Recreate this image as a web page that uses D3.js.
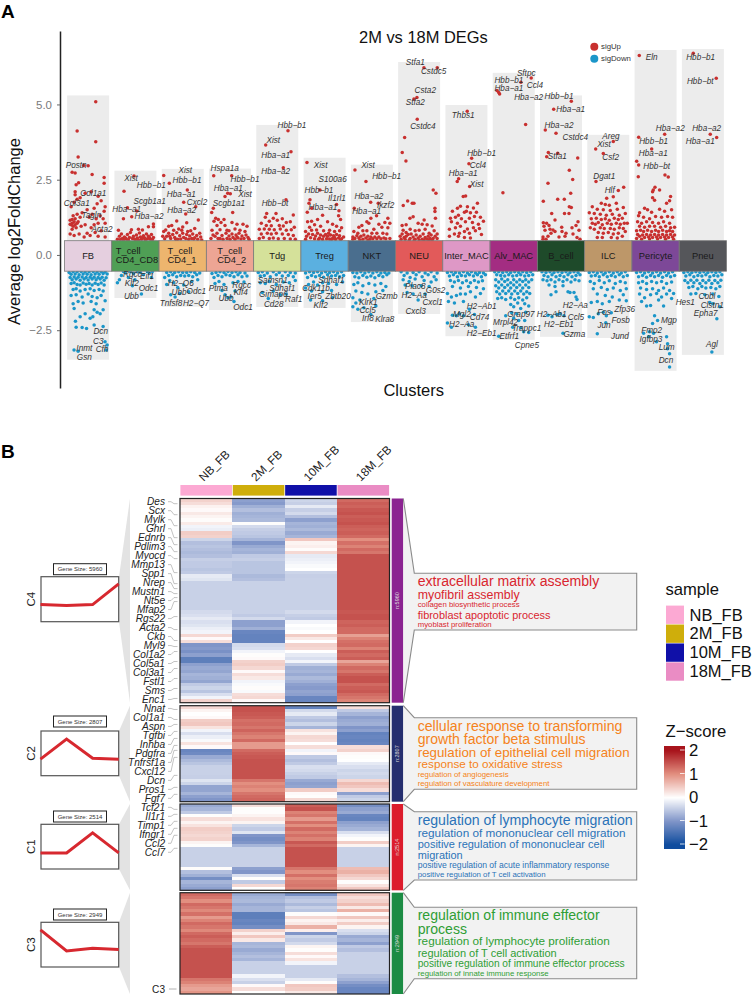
<!DOCTYPE html>
<html><head><meta charset="utf-8">
<script src="https://cdn.jsdelivr.net/npm/d3@7/dist/d3.min.js"></script>
<style>html,body{margin:0;background:#fff}svg{display:block;font-family:"Liberation Sans",Arial,sans-serif}</style>
</head><body><svg id="chart" width="754" height="996"></svg>
<script>
// ---------- Panel A data ----------
const clusters=["FB","T_cell_CD4_CD8","T_cell_CD4_1","T_cell_CD4_2","Tdg","Treg","NKT","NEU","Inter_MAC","Alv_MAC","B_cell","ILC","Pericyte","Pneu"];
const clusterLines=[["FB"],["T_cell","CD4_CD8"],["T_cell","CD4_1"],["T_cell","CD4_2"],["Tdg"],["Treg"],["NKT"],["NEU"],["Inter_MAC"],["Alv_MAC"],["B_cell"],["ILC"],["Pericyte"],["Pneu"]];
const clusterColors=["#e5cfdf","#4f9f55","#edb56e","#eda594","#d5e19a","#5bb0e0","#4a6e8e","#e25a5a","#de98c6","#a32d82","#1e4a2a","#bd9769","#7d4898","#55565a"];
const clusterMax=[5.30,2.80,2.86,2.87,4.32,3.23,3.00,6.41,4.98,6.05,5.30,3.99,6.81,6.84];
const clusterMin=[-3.48,-1.43,-1.72,-1.83,-1.73,-1.76,-2.23,-1.96,-2.70,-2.82,-2.72,-2.76,-3.85,-3.32];
const yTicks=[-2.5,0,2.5,5];
// points: flat lists of jitter, log2FC pairs
const upFB=[7.6,5.09,-11,4.12,7.6,3.76,-10,3.25,0,2.96,-4.5,2.97,-16,2.75,-13,2.72,4,2.67,16,2.57,16,2.38,-9.5,2.4,-12,2.33,-13,2.1,-13,2,-11,1.85,-17,1.6,-14,1.75,-8,1.9,-3,2.05,3,2.1,10,1.95,13,1.8,17,1.6,16,1.45,9,1.7,6,1.55,-1,1.5,-6,1.4,-11,1.35,-15,1.3,-18,1.15,-16,1.05,-13,1.2,-10,1.1,-8,1.25,1,1.25,4,1.35,8,1.2,12,1.3,15,1.2,17,1.05,10,1.05,6,1,3,.9,-3,1,-7,.95,-12,.9,-16,.85,-18,.7,-14,.65,-9,.7,-4,.6,2,.65,7,.75,13,.8,17,.6,-17,1,-15,.95,-13,1,-11,1.05,-18,1.02,-16,1.18,-14,1.1,-1,.72,10,.62];
const upT8=[-1.4,2.62,-11.4,2.12,-8,1.57,1.3,1.46,-3.7,1.27,-12,1.2,18,1.03,13,.94,18,.94,-16,.62,-14,.7,-13,.55,-11,.6,-9,.52,-8,.68,-6,.58,-5,.75,-3,.55,-2,.62,0,.5,1,.66,2,.56,4,.73,5,.6,6,.52,8,.64,9,.57,11,.7,12,.54,13,.62,15,.52,16,.68,18,.58,-18,.52,-12,.5,-7,.5,3,.5,10,.5,-4,.84,3,.85,7,.83,-17,.82,-15,.51,-10,.56,-1,.53,7,.55,14,.58,17,.51];
const upT1=[-19,2.64,-13.4,2.38,4.6,2.16,1,1.75,13,1.6,3,1.36,-6,1.13,15.6,1.16,-11,.98,-17,.83,4,1.07,-14,.95,-4,.86,-9,.82,-19,.78,0,.93,8,.8,12,.88,17,.72,-16,.62,-14,.72,-12,.55,-10,.68,-8,.58,-6,.74,-5,.52,-3,.64,-2,.53,0,.72,1,.58,3,.55,4,.68,6,.52,7,.63,9,.55,10,.7,12,.57,14,.65,15,.52,18,.6,-18,.54,-13,.62,-7,.52,-1,.82,5,.78,11,.53,19,.5,-20,.62];
const upT2=[-16.3,2.63,1.7,2.63,-5,1.94,-2.3,2.05,.3,2.03,-16.7,1.55,-18.3,1.41,2.7,1.41,-14.3,1.22,-11.7,1.18,-6,1.18,-16,1.12,-9,1.08,-13,.98,-5,.98,2,1.08,7,1.02,13,1.02,17,.95,-18,.82,-10,.84,-3,.82,5,.86,10,.82,15,.78,-15,.62,-13,.72,-12,.55,-8,.65,-7,.52,-4,.72,-3,.55,-1,.63,0,.52,2,.7,3,.58,5,.52,6,.66,8,.56,9,.72,11,.53,12,.63,14,.55,16,.66,18,.58,19,.52,-19,.55,-17,.66,-10,.55,-1,.8,7,.6];
const upTdg=[10.7,4.13,-11.6,3.65,13.7,3.43,6,2.9,8.7,1.83,-10.6,1.38,-1.3,1.38,16,1.33,-12,1.25,-4,1.22,5,1.2,-8,1.12,0,1.15,9,1.08,13,1.1,-16,1.05,-11,.98,-6,.97,2,.98,6,.96,17,.92,-18,.85,-13,.86,-8,.85,-3,.84,3,.86,9,.82,14,.84,-16,.7,-10,.72,-6,.7,-1,.72,5,.7,11,.68,16,.65,-18,.55,-14,.58,-8,.55,-4,.56,1,.54,7,.55,13,.53,18,.52];
const upTreg=[-17.6,3.07,-14.6,1.83,-15.6,1.72,-17.3,1.42,12,1.68,14.4,1.47,-4.6,2.16,-12.9,1.55,-2,1.32,-13,1.12,14,1.3,16,1.18,-7,1.18,3,1.1,-17,1.1,8,1.02,-10,1,-15,.92,-4,.95,12,.95,17,.9,-19,.78,-13,.82,-8,.83,-1,.8,5,.82,10,.78,15,.8,-18,.62,-16,.7,-14,.57,-12,.68,-10,.54,-9,.63,-7,.72,-5,.56,-4,.66,-2,.52,-1,.62,1,.68,2,.54,3,.62,5,.53,6,.66,8,.55,9,.64,11,.52,12,.68,14,.56,15,.64,17,.54,19,.6,-19,.52,-6,.52,4,.72,7,.52,10,.58,16,.51];
const upNKT=[-16.9,2.82,-5.9,2.44,-1.2,1.75,6.4,1.72,-17.6,1.55,4.7,1.3,16,1.22,18,1.05,-1,1.22,-5,1.1,-10,.98,-3,1.05,7,1.02,13,1.08,-13,.92,2,.85,10,.92,16,.9,-18,.78,-14,.72,-9,.8,-5,.8,0,.72,5,.72,11,.72,15,.7,-19,.6,-17,.55,-15,.64,-13,.56,-11,.62,-9,.52,-8,.66,-6,.56,-4,.62,-2,.52,-1,.6,1,.54,3,.6,5,.54,7,.6,9,.54,12,.56,14,.54,18,.55,-19,.52,-12,.5,-4,.5];
const upNEU=[4.8,6.22,18.1,6.22,-5.2,5.18,-2.2,5.23,-1.9,4.51,-14.5,3.9,-16.9,3.4,-13.2,3.12,14.1,2.16,16.8,2.05,-11.5,1.79,-6.9,1.72,-5.2,1.72,-15.9,1.64,15.8,1.55,15.8,1.44,-9.2,1.22,-6,1.27,16.3,1.22,5,1.16,-17,.98,-13,1,-1,1.05,3,1.02,8,1,13,.96,-16,.82,-13,.75,-9,.85,-4,.8,0,.82,6,.85,10,.72,15,.8,18,.7,-19,.62,-17,.7,-15,.58,-13,.62,-11,.68,-9,.55,-8,.7,-6,.6,-4,.52,-3,.66,-1,.56,1,.62,3,.52,4,.7,6,.58,8,.52,9,.62,11,.55,12,.66,14,.55,16,.62,18,.55,-18,.52,-14,.52,-10,.5,-5,.5,0,.5,5,.5,10,.5,13,.5];
const upInter=[.8,4.77,5.2,3.21,2.5,3.03,-9.2,2.44,-7.8,2.53,3.2,2.27,-3.2,1.94,-.8,1.96,-6,1.62,-9,1.55,1,1.6,7,1.56,11,1.72,0,1.45,-14,1.45,-8,1.32,-2,1.42,4,1.4,10,1.42,-16,1.22,-11,1.25,-5,1.2,3,1.22,8,1.28,14,1.25,17,1.12,-15,1.1,-9,1.05,-1,1.1,6,1.08,12,1.02,-17,.85,-11,.9,-6,.95,-2,.78,1,.86,7,.9,13,.88,-12,.7,-7,.72,3,.72,9,.8,15,.68,-17,.62,-8,.62,-2,.58,4,.56];
const upAlv=[7.2,5.74,17.5,5.88,-16.8,5.46,-14.1,5.35,-15,5.4,11.9,4.33,-10.8,2.07];
const upB=[10.3,5.11,-7.3,4.84,-15.7,4.15,-5,4.04,-12.7,3.4,-14.3,3.26,-3.3,3.38,16.7,3.22,8.3,2.81,-13,2.38,11.7,2.51,9.7,2.05,-17.7,1.78,-3.3,1.85,3.3,1.85,8.3,1.6,10.3,1.58,-9.3,1.38,8,1.38,3.5,1.38,17,1.1,-17.7,1.07,-14.4,1.05,-6,1.16,.7,.92,-11,.85,-8,.83,-17,.95,-12,.98,-16,.82,-10,.72,-6,.78,1,.78,5,.72,11,.9,15,.98,18,.82,-18,.6,-13,.62,-15,.52,-2,.6,4,.62,12,.7,16,.58,19,.52,-18,.52];
const upILC=[5,3.77,-12.6,3.52,-5,3.37,-12.3,2.44,10,2.14,15.4,2.25,-1.6,1.88,5,1.93,-7,1.72,-3,1.68,1,1.65,8,1.72,-16,1.6,-11,1.52,-5,1.5,2,1.48,9,1.52,15,1.58,-19,1.4,-14,1.38,-8,1.35,-2,1.32,4,1.35,11,1.32,17,1.38,-17,1.2,-12,1.22,-7,1.18,-3,1.2,1,1.15,6,1.22,10,1.18,14,1.22,-16,1.05,-13,1.02,-10,1.08,-6,1,-1,1.05,3,1.02,8,1.05,12,1.02,16,1.05,19,1.05,-18,.9,-14,.85,-8,.9,-4,.88,2,.88,6,.85,11,.9,15,.88,-10,.75,-5,.72,0,.75,5,.7,10,.72,17,.78,-11,.58,-6,.58,3,.58,9,.56,14,.62];
const upPeri=[-16.3,6.63,9.1,4.01,-16.9,3.91,-3.9,3.52,-18.9,3.11,-16.9,2.99,-17.3,2.6,9.4,2.66,12.7,2.59,-2.3,2.16,-.6,2.25,-3,2.1,4,2.16,15,1.94,-3,1.9,-1,1.82,11,1.72,14,1.8,-11,1.55,-8,1.5,-16,1.4,-4,1.42,4,1.52,9,1.45,16,1.5,-17,1.3,-12,1.25,-6,1.2,0,1.28,6,1.25,12,1.28,17,1.25,-18,1.1,-14,1.05,-9,1.1,-3,1.08,3,1.05,8,1.1,14,1.05,-16,.95,-11,.92,-6,.95,-1,.95,5,.92,10,.95,15,.9,19,.92,-19,.8,-15,.82,-12,.78,-8,.82,-4,.78,0,.82,3,.78,7,.82,11,.78,14,.8,17,.78,-18,.68,-16,.62,-13,.66,-11,.58,-9,.68,-7,.6,-5,.66,-3,.58,-1,.68,1,.6,3,.66,5,.58,7,.68,9,.6,11,.66,13,.58,15,.68,17,.6,19,.66,-19,.55,-14,.52,-6,.53,2,.53,10,.52,18,.52];
const upPneu=[-9.6,6.7,13.4,5.87,7.4,4.01,13.8,3.9];
const downFB=[-14.1,-3.16,-10,-3.2,16.9,-2.88,19,-2.99,18,-3.16,15,-2.38,-12.7,-2.2,-12,-2.4,-6,-2.41,-1.6,-2.44,2,-2.1,4.7,-2.05,6,-2.33,-8,-2.05,12,-1.95,9,-1.9,6,-1.82,-14,-1.78,-15,-1.62,-3,-1.95,15,-1.82,-19,-.58,-17,-.64,-15,-.55,-13,-.63,-11,-.56,-9,-.66,-7,-.55,-5,-.63,-3,-.57,-1,-.64,1,-.56,3,-.66,5,-.55,7,-.63,9,-.57,11,-.64,13,-.55,15,-.62,17,-.57,19,-.63,-18,-.75,-16,-.82,-14,-.73,-12,-.8,-10,-.74,-8,-.84,-6,-.73,-4,-.8,-2,-.75,0,-.83,2,-.74,4,-.8,6,-.74,8,-.82,10,-.75,12,-.8,14,-.74,16,-.84,18,-.76,-17,-.95,-14,-.92,-11,-.98,-8,-1,-5,-.93,-2,-.97,1,-.95,4,-1,7,-.94,10,-.98,13,-.93,16,-1,-15,-1.15,-12,-1.12,-8,-1.2,-3,-1.15,2,-1.12,6,-1.18,11,-1.15,15,-1.2,-17,-1.35,-12,-1.32,-6,-1.4,0,-1.3,4,-1.38,9,-1.42,13,-1.35,-10,-1.55,-5,-1.6,3,-1.55,8,-1.62,17,-1.52];
const downT8=[-18,-.92,-16,-.82,-14,-.68,-10,-.6,-7,-.75,-5,-.55,-2,-.62,2,-.55,5,-.58,8,-.66,12,-.56,14,-.6,16,-.75,17,-.55,-12,-.55,-3,-1.02,6,-1.3,-.5,-.82];
const downT1=[-18,-.75,-16,-.58,-14,-.68,-12,-.56,-10,-.66,-8,-.58,-6,-.72,-4,-.56,-2,-.68,0,-.58,2,-.7,4,-.58,6,-.68,8,-.56,10,-.72,12,-.58,14,-.66,17,-.6,-13,-.85,-16,-.98,-9,-.92,-5,-1.08,1,-1,9,-.88,15,-.82,-3,-1.28,-12,-1.32,-7.6,-1.4,6,-1.22];
const downT2=[-18,-.62,-16,-.75,-14,-.58,-12,-.68,-10,-.56,-8,-.72,-6,-.58,-4,-.66,-2,-.55,0,-.68,2,-.58,4,-.72,6,-.56,8,-.66,10,-.58,12,-.72,15,-.6,17,-.7,-15,-.95,-11,-.88,-6,-.98,3,-.92,8,-.88,14,-.9,-8,-1.18,-5,-1.32,5,-1.2,-2,-1.42,4,-1.55,1,-1.4];
const downTdg=[-19,-.58,-17,-.7,-15,-.56,-13,-.68,-10,-.6,-7,-.72,-4,-.56,-1,-.66,2,-.58,5,-.7,8,-.56,11,-.68,13,-.58,16,-.72,18,-.6,-17,-.92,-12,-.95,-8,-.88,-1,-.98,6,-.9,12,-.92,18,-.85,-15,-1.25,-4,-1.2,3,-1.32,-9,-1.45,9,-1.3];
const downTreg=[-19,-.6,-17,-.75,-15,-.56,-13,-.68,-11,-.58,-9,-.72,-7,-.56,-5,-.68,-3,-.6,-1,-.74,1,-.56,3,-.66,5,-.58,7,-.7,9,-.56,11,-.68,13,-.6,15,-.72,17,-.56,19,-.68,-16,-.98,-11,-.9,-7,-1,-2,-.92,4,-.95,12,-.98,18,-.9,-19,-1.1,-13,-1.2,-2,-1.22,7,-1.18,-14,-1.5,8,-1.42,-2,-1.52];
const downNKT=[-19,-.58,-17,-.72,-15,-.6,-13,-.76,-11,-.56,-9,-.68,-7,-.6,-5,-.74,-3,-.56,-1,-.7,1,-.6,3,-.76,5,-.56,7,-.68,9,-.6,11,-.72,13,-.58,15,-.66,17,-.6,-18,-.98,-14,-.92,-9,-1.02,-3,-.95,3,-1,9,-.95,14,-1.05,-16,-1.2,-10,-1.25,-4,-1.3,4,-1.22,11,-1.18,-19,-1.42,-16,-1.6,-12,-1.5,2,-1.45,-19,-1.72,-14,-1.8,-8,-1.75,-1,-1.98,4,-1.7];
const downNEU=[-18,-.56,-15,-.68,-12,-.6,-9,-.75,-6,-.58,-3,-.66,0,-.56,3,-.72,6,-.6,9,-.66,12,-.56,15,-.72,18,-.6,-16,-.82,-10,-.88,-4,-.8,5,-.85,12,-.9,17,-.82,-14,-1,-7,-1.02,2,-1.02,10,-1.05,-6,-1.3,-12,-1.25,-1,-1.5,6,-1.3];
const downInter=[-19,-.58,-17,-.7,-15,-.56,-13,-.66,-11,-.58,-9,-.72,-7,-.6,-5,-.68,-3,-.56,-1,-.7,1,-.6,3,-.66,5,-.56,7,-.7,9,-.6,11,-.66,13,-.58,15,-.72,17,-.6,19,-.66,-16,-.85,-12,-.9,-8,-.85,-4,-.92,0,-.86,4,-.92,8,-.85,12,-.9,16,-.86,-14,-1.05,-6,-1.1,2,-1.05,10,-1.08,17,-1.12,-19,-1.28,-15,-1.4,-10,-1.35,-6,-1.3,-1,-1.3,4,-1.22,9,-1.4,14,-1.28,-18,-1.55,-12,-1.6,-3,-1.55,-7,-1.95,-3,-2.02,3,-1.8,8,-1.98,-14,-2,-19,-2.26,-15,-2.4,2,-2.32,9,-2.4,-10,-2.02];
const downAlv=[-19,-.56,-17,-.66,-15,-.56,-13,-.68,-11,-.58,-9,-.7,-7,-.56,-5,-.66,-3,-.58,-1,-.7,1,-.56,3,-.68,5,-.58,7,-.66,9,-.56,11,-.7,13,-.58,15,-.68,17,-.56,19,-.66,-18,-.82,-15,-.9,-12,-.8,-9,-.88,-6,-.82,-3,-.92,0,-.82,3,-.9,6,-.82,9,-.88,12,-.82,15,-.9,18,-.82,-18,-1.02,-15,-1.1,-12,-1,-9,-1.08,-6,-1,-3,-1.1,0,-1,3,-1.08,6,-1,9,-1.1,12,-1,15,-1.08,-17,-1.22,-14,-1.3,-11,-1.2,-8,-1.28,-5,-1.2,-2,-1.3,1,-1.2,4,-1.28,7,-1.2,10,-1.3,13,-1.22,16,-1.28,-16,-1.45,-12,-1.42,-8,-1.48,-3,-1.42,1,-1.48,5,-1.42,9,-1.5,13,-1.42,-3,-1.65,0,-1.72,4,-1.6,7,-1.78,11,-1.62,15,-1.7,-2,-1.92,3,-1.95,12,-1.9,-8,-2.02,0,-2.1,5,-2.18,11,-2.18,7,-2.42,15,-2.58,10,-2.55,-15,-2.7,-1,-2.4];
const downB=[-19,-.56,-17,-.68,-15,-.58,-13,-.72,-11,-.56,-9,-.66,-7,-.58,-5,-.72,-3,-.56,-1,-.68,1,-.58,3,-.72,5,-.56,7,-.66,9,-.58,11,-.72,13,-.56,15,-.68,17,-.58,19,-.66,-18,-.82,-14,-.86,-10,-.82,-6,-.9,-2,-.82,2,-.88,6,-.82,10,-.9,14,-.82,18,-.86,-12,-1,-6,-1.05,2,-1.02,-5,-1.22,7,-1.22,9,-1.25,13,-1.25,15,-1.4,16,-1.48,-10,-1.32,-1,-1.95,3,-2.02,-13,-2,-4,-1.98,-9,-2.05,2,-2.6];
const downILC=[-19,-.58,-17,-.7,-15,-.56,-13,-.68,-11,-.6,-9,-.72,-7,-.56,-5,-.66,-3,-.6,-1,-.72,1,-.56,3,-.68,5,-.6,7,-.72,9,-.56,11,-.66,13,-.6,15,-.72,17,-.56,19,-.68,-18,-.88,-14,-.95,-9,-.85,-4,-.92,1,-.86,7,-.95,12,-.88,17,-.92,-15,-1.12,-7,-1.08,-1,-1.15,5,-1.1,12,-1.18,18,-1.12,-11,-1.3,-3,-1.35,4,-1.4,15,-1.32,-17,-1.58,-11,-1.55,-6,-1.62,1,-1.55,11,-1.5,18,-1.52,-19,-2.05,-15,-2.08,-10,-1.95,-5,-1.9,-2.5,-2.25,3,-1.92,-11,-2.62,-2,-2.02];
const downPeri=[-19,-.58,-17,-.72,-15,-.56,-13,-.68,-11,-.6,-9,-.74,-7,-.56,-5,-.68,-3,-.6,-1,-.72,1,-.56,3,-.68,5,-.6,7,-.74,9,-.56,11,-.68,13,-.6,15,-.72,17,-.56,19,-.68,-17,-.92,-13,-.88,-9,-.95,-4,-.88,1,-.92,6,-.88,11,-.95,16,-.9,-15,-1.1,-9,-1.15,-3,-1.12,3,-1.18,8,-1.1,14,-1.18,18,-1.28,-16,-1.3,-11,-1.42,-5,-1.32,1,-1.28,6,-1.4,11,-1.3,16,-1.45,-14,-1.55,-5,-1.68,3,-1.5,-9,-1.7,8,-1.7,-1,-2.02,2,-2.18,-3,-2.28,-12,-2.6,-6,-2.55,-2,-2.6,1,-2.88,11,-2.72,12,-2.95,12,-3.12,-7,-2.72,14,-3.28,14,-3.72];
const downPneu=[-19,-.58,-17,-.7,-15,-.56,-13,-.66,-11,-.58,-9,-.72,-7,-.56,-5,-.68,-3,-.58,-1,-.7,1,-.56,3,-.66,5,-.58,7,-.72,9,-.56,11,-.68,13,-.58,15,-.7,17,-.56,19,-.66,-18,-.85,-15,-.92,-12,-.84,-9,-.92,-6,-.84,-3,-.95,0,-.85,3,-.92,6,-.84,9,-.95,12,-.85,15,-.92,18,-.84,-14,-1.08,-10,-1.05,-5,-1.12,-1,-1.05,3,-1.1,8,-1.08,13,-1.12,17,-1.05,-7,-1.28,2,-1.32,10,-1.3,16,-1.38,-12,-1.3,10,-1.62,17,-1.72,14,-2.12,7,-1.58,9,-3.22];
const upLists=[upFB,upT8,upT1,upT2,upTdg,upTreg,upNKT,upNEU,upInter,upAlv,upB,upILC,upPeri,upPneu];
const downLists=[downFB,downT8,downT1,downT2,downTdg,downTreg,downNKT,downNEU,downInter,downAlv,downB,downILC,downPeri,downPneu];
// gene labels: cluster index, name, jitter, log2FC
const geneLabels=[[0,"Postn",-12,2.99],[0,"Col1a1",5.2,2.07],[0,"Col3a1",-11.4,1.71],[0,"Tagln",3.2,1.34],[0,"Acta2",13.9,.87],[0,"Dcn",12.6,-2.53],[0,"C3",10.2,-2.86],[0,"Cfh",13.9,-3.13],[0,"Inmt",-3.8,-3.1],[0,"Gsn",-3.8,-3.39],
[1,"Xist",-4.4,2.56],[1,"Hbb−b1",15.9,2.31],[1,"Scgb1a1",14.3,1.78],[1,"Hba−a1",-8.7,1.52],[1,"Hba−a2",13.6,1.29],[1,"Rgcc",-3.1,-.64],[1,"Eif1",11.6,-.69],[1,"Klf2",-3.7,-.92],[1,"Odc1",13,-1.09],[1,"Ubb",-4,-1.36],
[2,"Xist",2.6,2.82],[2,"Hbb−b1",4.3,2.5],[2,"Hba−a1",-1.4,2.03],[2,"Cxcl2",14.3,1.76],[2,"Hba−a2",-1,1.49],[2,"H2−Q6",-2,-.92],[2,"Ubb",-3.7,-1.24],[2,"Odc1",13.6,-1.21],[2,"Tnfsf8",-11.7,-1.6],[2,"H2−Q7",13.3,-1.61],
[3,"Hspa1a",-5.3,2.9],[3,"Hbb−b1",15,2.53],[3,"Hba−a1",-1.7,2.22],[3,"Xist",15,2.03],[3,"Scgb1a1",-1,1.73],[3,"Ptma",-11.7,-1.11],[3,"Rgcc",11.7,-1],[3,"Klf4",10.7,-1.24],[3,"Ubb",-4,-1.45],[3,"Odc1",13,-1.73],
[4,"Hbb−b1",14.7,4.3],[4,"Xist",-4,3.81],[4,"Hba−a1",-1.6,3.32],[4,"Hba−a2",-1.6,2.8],[4,"Hbb−bt",-2.3,1.73],[4,"Samsn1",-4.6,-.85],[4,"Sdhaf1",5,-1.09],[4,"Gimap6",-4,-1.31],[4,"Raf1",16.4,-1.48],[4,"Cd28",-3.6,-1.62],
[5,"Xist",-3.9,2.98],[5,"S100a6",8,2.51],[5,"Hbb−b1",-5.6,2.16],[5,"Il1rl1",12.4,1.89],[5,"Hba−a1",-1.6,1.59],[5,"Sdhaf1",6.7,-.82],[5,"Cdk11b",-8.6,-1.1],[5,"Ier5",-9.9,-1.36],[5,"Zbtb20",13.4,-1.36],[5,"Klf2",-3.9,-1.66],
[6,"Xist",-3.9,2.99],[6,"Hbb−b1",14.8,2.62],[6,"Hba−a2",-3,1.96],[6,"Ikzf2",13.8,1.66],[6,"Hba−a1",-5.2,1.45],[6,"Gzmb",14.8,-1.37],[6,"Klrk1",-3.6,-1.55],[6,"Ccl5",-4.2,-1.84],[6,"Irf8",-3.9,-2.11],[6,"Klra8",13,-2.14],
[7,"Stfa1",-3.9,6.4],[7,"Cstdc5",14.5,6.11],[7,"Csta2",6.1,5.47],[7,"Stfa2",-3.9,5.08],[7,"Cstdc4",3.8,4.27],[7,"Plac8",-3.9,-1.04],[7,"G0s2",16.5,-1.16],[7,"H2−Aa",-4.9,-1.34],[7,"Cxcl1",13.5,-1.57],[7,"Cxcl3",-3.5,-1.86],
[8,"Thbs1",-3.2,4.65],[8,"Hbb−b1",15.2,3.4],[8,"Ccl4",11.5,2.99],[8,"Hba−a1",-3.2,2.71],[8,"Xist",10.2,2.36],[8,"H2−Ab1",15.2,-1.71],[8,"Mgl2",-4.5,-1.98],[8,"Cd74",13.2,-2.06],[8,"H2−Aa",-4.8,-2.3],[8,"H2−Eb1",15.2,-2.59],
[9,"Sftpc",12.5,6.05],[9,"Hbb−b1",-4.8,5.8],[9,"Ccl4",21.2,5.64],[9,"Hba−a1",-4.8,5.54],[9,"Hba−a2",14.9,5.23],[9,"Grap97",7.2,-1.96],[9,"Mrpl42",-8.1,-2.23],[9,"Trappc1",12.9,-2.44],[9,"Etfrf1",-4.5,-2.69],[9,"Cpne5",13.2,-2.99],
[10,"Hbb−b1",-2,5.27],[10,"Hba−a1",9.7,4.84],[10,"Hba−a2",-2,4.33],[10,"Cstdc4",14.3,3.93],[10,"Stfa1",-3.7,3.28],[10,"H2−Aa",14.3,-1.66],[10,"H2−Ab1",-9.3,-1.97],[10,"Ccl5",15,-2.05],[10,"H2−Eb1",-2,-2.29],[10,"Gzma",13.3,-2.64],
[11,"Areg",2.7,3.95],[11,"Xist",-4.3,3.68],[11,"Csf2",2.4,3.26],[11,"Dgat1",-4,2.62],[11,"Hlf",1.4,2.14],[11,"Zfp36",16.4,-1.81],[11,"Fos",-4.3,-1.9],[11,"Fosb",12.4,-2.15],[11,"Jun",-4.3,-2.34],[11,"Jund",11.7,-2.68],
[12,"Eln",-3.9,6.56],[12,"Hba−a2",14.7,4.2],[12,"Hbb−b1",-1.9,3.79],[12,"Hba−a1",-2.3,3.4],[12,"Hbb−bt",1.1,2.95],[12,"Mgp",13.4,-2.16],[12,"Fmo2",-3.9,-2.49],[12,"Igfbp3",-4.6,-2.8],[12,"Lum",11.1,-3.07],[12,"Dcn",10.4,-3.5],
[13,"Hbb−b1",-2.2,6.58],[13,"Hbb−bt",-2.6,5.76],[13,"Hba−a2",3.8,4.21],[13,"Hba−a1",-2.6,3.79],[13,"Hes1",-17.6,-1.55],[13,"Cobl",4.1,-1.38],[13,"Clstn1",9.4,-1.66],[13,"Epha7",2.8,-1.94],[13,"Agl",9.1,-2.97]];

// ---------- Panel B data ----------
const samples=["NB_FB","2M_FB","10M_FB","18M_FB"];
const sampleColors=["#fca9d3","#cfae0b","#1010a8","#ea8cc4"];
const geneRows=["Des","Scx","Mylk","Ghrl","Ednrb","Pdlim3","Myocd","Mmp13","Spp1","Nrep","Mustn1","Nt5e","Mfap2","Rgs22","Acta2","Ckb","Myl9","Col1a2","Col5a1","Col3a1","Fstl1","Sms","Enc1","Nnat","Col1a1","Aspn","Tgfbi","Inhba","Pdgfra","Tnfrsf1a","Cxcl12","Dcn","Pros1","Fgf7","Tcf21","Il1r1","Timp1","Ifngr1","Ccl2","Ccl7"];
const geneLinkShift=[2,4,6,9,7,5,3,8,10,6,2,-3,-8,-2,2,4,1,-3,-2,-4,-3,-2,-1,1,2,-2,-4,-6,-8,-12,-14,-5,-2,-4,2,-2,-4,-6,-8,-4];
const c4NB=[.4,.3,.12,.05,.2,.1,.03,.18,-.1,-.15,.45,.4,-.4,-.6,-.55,-.6,-.65,-.6,-.45,-.5,-.5,-.55,-.5,-.2,-.25,-.43,-.43,-.43,-.43,-.43,-.43,-.43,-.43,-.43,-.35,-.3,-.2,-.3,-.25,-.15,-.1,.35,.05,.3,-1,-.95,-1.05,-.9,-1.3,-1.3,-.9,-.8,-.85,-.7,-.75,-.85,-.5,-.4,-.55,-.3,-.1,.4];
const c42M=[-.9,-.95,-.75,-.6,-.75,-.7,-.65,.02,-.35,-.45,-.5,-.55,-.7,-1,-.8,-.7,-.75,-.5,-.45,-.55,-.55,-.55,-.55,-.65,-.6,-.43,-.43,-.43,-.43,-.43,-.43,-.43,-.43,-.43,-.43,-.5,-.35,-.9,-.9,-.75,-1.2,-1.25,-1.25,-1.25,-.35,-.3,-.1,.02,.05,.4,.45,.35,.05,.3,.2,-.1,-.05,.03,-.05,.3,.35,.05];
const c410M=[-.4,-.45,-.2,-.45,-.35,-.6,-.9,-.7,-.75,-.65,-.8,-.7,.5,.1,.15,.03,.35,-.2,-.15,-.1,-.05,0,-.4,-.45,-.43,-.43,-.43,-.43,-.43,-.43,-.43,-.43,-.43,-.43,-.35,-.45,-.5,-.1,0,-.05,0,.45,.2,0,.4,.35,0,-.2,-.3,-.1,-.5,-.75,-.7,-.8,-.65,-.75,-.9,-.95,-.85,-.9,-1.2,-1.2];
const c418M=[1.3,1.4,1.35,1.45,1.5,1.4,1.45,1.5,1.4,1.35,1.4,1.3,1,1.25,1.1,1.3,1.2,1.5,1.5,1.5,1.5,1.5,1.5,1.5,1.5,1.5,1.5,1.5,1.5,1.5,1.5,1.5,1.5,1.5,1.45,1.5,1.5,1.35,1.4,1.3,1.3,.85,1.1,1.25,1.3,1.1,1.4,1.3,1.4,.8,1.1,1.3,1.2,1.4,1.5,1.5,1.3,1.4,1.45,1.3,1.2,1.1];
const c2NB=[.35,.1,0,.05,.45,.5,.25,-.1,-.3,-.15,-.05,.25,.05,-1.2,-1.15,-.8,-.65,-.55,-.43,-.43,-.43,-.45,-.25,-.4,-.85,-.85,-.7,-.9,-1];
const c22M=[1.5,1.5,1.45,1.4,1.25,1.3,1.2,1.35,1.2,1.1,1.3,.9,.9,1.3,1.4,1.45,1.5,1.5,1.5,1.5,1.5,1.5,1.2,1,1.1,1,1.2,1.3,1.35];
const c210M=[-1.25,-.35,-.2,-.5,-.6,-.4,-.7,.25,.1,.35,.3,0,.3,-.1,.05,-.5,-.6,-.5,-.3,-.35,-.43,-.5,-.8,-.9,-.85,.45,.05,.02,.35];
const c218M=[.3,-.5,-.7,-.9,-.8,-.75,-1,-.9,-1.25,-1.2,-1.25,-1.2,.3,.4,.05,.02,0,-.2,-.3,-.4,-.35,-.4,.35,.6,.5,.3,-.9,-.5,-.4];
const c1NB=[-.8,-.7,-.5,.02,.3,.1,.25,.45,.4,.35,.4,.1,.02,-.43,-.43,-.43,-.43,-.43,-.43,.03,-.6,-.75,-1.1,-.7,-.8,-.9];
const c12M=[.3,.02,.02,.1,.25,.1,-.4,-.5,-.25,-1,-1.1,-1,-.7,-.43,-.43,-.43,-.43,-.43,-.43,-.9,-1,-.3,.02,-.5,.35,0];
const c110M=[1.4,1.5,1.1,1.2,.9,1.25,1,1.3,1.1,1.25,1.1,1.45,1.3,1.5,1.5,1.5,1.5,1.5,1.5,1.2,1,1.25,1,1.15,1.2,1.1];
const c118M=[-1.1,-.9,-.8,-1.2,-1.25,-.9,-.8,-.7,-.3,-.1,.02,.45,.1,-.43,-.43,-.43,-.43,-.43,-.43,.6,.7,.5,.35,.02,.25,.5];
const c3NB=[1.3,1.2,1,1.3,1.2,1.05,1.25,.9,1.1,1.3,1.2,1.05,1.3,1.4,1.3,1.2,1.4,1.5,1.5,1.5,1.5,1.5,1.5,1.5,1.5,1.5,1.2,1.1,.9,.8,.95];
const c32M=[-.8,-.7,-.65,-.8,-.7,-.7,-1.3,-1.3,-1.2,-1.25,-1.1,.4,.15,.5,.2,-.7,-.65,-.8,-.7,-.6,-.7,-.43,-.43,-.43,-.43,-.1,-.3,-.43,.05,.3,0];
const c310M=[-1.1,-.6,-.5,-.65,-.45,-.55,.02,.35,.1,.2,.7,.15,-1,-.4,-.5,-.35,.1,.02,.3,.05,.25,-.1,-.43,-.43,-.43,-.43,-.2,.02,.5,.45,.2];
const c318M=[.5,.3,.4,.6,.2,.7,.05,.5,.15,.45,.1,-.3,-.4,-.8,-.7,-.9,-.5,-.6,-.43,-.43,-.43,-.43,-.43,-.43,-.43,-.6,-.7,-.9,-1.1,-1.2,-1.2];
const trendC4=[.38,.36,.38,.84], trendC2=[.37,.82,.39,.37], trendC1=[.36,.36,.81,.36], trendC3=[.83,.36,.42,.39];
const termsC4=["extracellular matrix assembly","myofibril assembly","collagen biosynthetic process","fibroblast apoptotic process","myoblast proliferation"];
const termsC2=["cellular response to transforming","growth factor beta stimulus","regulation of epithelial cell migration","response to oxidative stress","regulation of angiogenesis","regulation of vasculature development"];
const termsC1=["regulation of lymphocyte migration","regulation of mononuclear cell migration","positive regulation of mononuclear cell","migration","positive regulation of acute inflammatory response","positive regulation of T cell activation"];
const termsC3=["regulation of immune effector","process","regulation of lymphocyte proliferation","regulation of T cell activation","positive regulation of immune effector process","regulation of innate immune response"];

// ---------- layout (not data) ----------
const svg=d3.select("#chart");
const chunk=a=>d3.range(0,a.length,2).map(i=>[a[i],a[i+1]]);
// scale a text's font so its rendered length matches the width seen in the reference
const fit=(sel,w)=>{const n=sel.node();const f=+sel.attr("font-size");sel.attr("font-size",(f*w/n.getComputedTextLength()).toFixed(2));return sel;};
const up="#c8302f",down="#1b96c9";
svg.append("text").attr("x",1).attr("y",17.5).attr("font-size",19).attr("font-weight","bold").text("A");
svg.append("text").attr("x",1).attr("y",458).attr("font-size",19).attr("font-weight","bold").text("B");

const y=d3.scaleLinear([-4.42,7.44],[388,31]);
const x=d3.scaleBand(clusters,[64.5,726.5]);
const cx=i=>x(clusters[i])+x.bandwidth()/2;
const gA=svg.append("g");
clusters.forEach((c,i)=>{
  gA.append("rect").attr("x",cx(i)-21).attr("width",42).attr("y",y(clusterMax[i])).attr("height",y(clusterMin[i])-y(clusterMax[i])).attr("fill","#ececec");
});
clusters.forEach((c,i)=>{
  [[upLists[i],up],[downLists[i],down]].forEach(([l,col])=>{
    gA.append("g").selectAll("circle").data(chunk(l)).join("circle")
      .attr("cx",d=>cx(i)+d[0]).attr("cy",d=>y(d[1])).attr("r",1.75).attr("fill",col);
  });
});
const twoLineInset=[0,4,8.5,11];
clusters.forEach((c,i)=>{
  gA.append("rect").attr("x",x(c)).attr("width",x.bandwidth()).attr("y",240.7).attr("height",30.5).attr("fill",clusterColors[i]).attr("stroke","#7a7a7a").attr("stroke-width",.8);
  const L=clusterLines[i];
  L.forEach((t,k)=>{
    const two=L.length>1;
    gA.append("text").attr("x",two?x(c)+twoLineInset[i]:cx(i)).attr("y",two?253.7+k*9.6:259)
      .attr("text-anchor",two?"start":"middle").attr("font-size",9.3).attr("fill","#1a1a1a").text(t);
  });
});
geneLabels.forEach(([i,n,dx,v])=>{
  gA.append("text").attr("x",cx(i)+dx).attr("y",y(v)+2.9).attr("text-anchor","middle").attr("font-size",8.2).attr("font-style","italic").attr("fill","#333").text(n);
});
const axis=gA.append("g").attr("transform","translate(60,0)").call(d3.axisLeft(y).tickValues(yTicks).tickSize(3).tickSizeOuter(0).tickPadding(5).tickFormat(d3.format(".1f")));
axis.select(".domain").attr("stroke","#222").attr("stroke-width",1.5);
axis.selectAll("line").attr("stroke","#666");
axis.selectAll("text").attr("font-size",11.5).attr("fill","#7a7a7a").attr("font-family","Liberation Sans");
fit(gA.append("text").attr("transform","translate(20,231.5) rotate(-90)").attr("text-anchor","middle").attr("font-size",16).attr("fill","#111").text("Average log2FoldChange"),187);
fit(gA.append("text").attr("x",413.7).attr("y",395.5).attr("text-anchor","middle").attr("font-size",16).attr("fill","#111").text("Clusters"),60.7);
fit(gA.append("text").attr("x",359).attr("y",43).attr("font-size",15.5).attr("fill","#111").text("2M vs 18M DEGs"),129);
[["sigUp",up,46.7],["sigDown",down,58.7]].forEach(([t,c,py])=>{
  gA.append("circle").attr("cx",594.3).attr("cy",py).attr("r",4).attr("fill",c);
  gA.append("text").attr("x",601).attr("y",py+2.6).attr("font-size",7.8).attr("fill","#333").text(t);
});

// Panel B
const color=d3.scaleLinear([-2,-1,0,1,2],["#0f4c9e","#8095c8","#ffffff","#e28f80","#a8141c"]).clamp(true);
const hx=d3.scaleBand(samples,[180,389.5]);
const gB=svg.append("g");
samples.forEach((s,i)=>{
  gB.append("rect").attr("x",hx(s)+.4).attr("width",hx.bandwidth()-.8).attr("y",485).attr("height",10.6).attr("fill",sampleColors[i]);
  gB.append("text").attr("transform",`translate(${hx(s)+hx.bandwidth()/2-2.5},482) rotate(-45)`).attr("font-size",11.8).attr("fill","#222").text(s);
});
const blocks=[
 {id:"C4",rows:[c4NB,c42M,c410M,c418M],top:498.5,bot:702.7,size:5960,bar:"#8b2391",trend:trendC4,box:[576.7,621.7],gs:[563.7,574.7],terms:termsC4,tc:"#d9262f",
  w:[181.7,102,102,133,74],bl:[586,599,607.3,618.7,627],call:[573.3,630]},
 {id:"C2",rows:[c2NB,c22M,c210M,c218M],top:705.7,bot:801.7,size:2807,bar:"#262f6f",trend:trendC2,box:[731,775.7],gs:[716,727],terms:termsC2,tc:"#f58220",
  w:[204.7,168,212,145,91,132],bl:[730.7,744,756.7,768.3,777,786],call:[717.7,789.3]},
 {id:"C1",rows:[c1NB,c12M,c110M,c118M],top:804,bot:890.3,size:2514,bar:"#dc1c2c",trend:trendC1,box:[824.3,869],gs:[811,822],terms:termsC1,tc:"#2b72b8",
  w:[215,208,187,45,192,128],bl:[825,836.7,848,859,868,877],call:[811.7,880]},
 {id:"C3",rows:[c3NB,c32M,c310M,c318M],top:892.7,bot:994,size:2949,bar:"#1c8c44",trend:trendC3,box:[922.3,967],gs:[909,920],terms:termsC3,tc:"#2f9e35",
  w:[182,49.3,192,139,207,131],bl:[920,933.7,945.3,956.7,966.7,976],call:[907.3,978.7]}];
const tx=d3.scaleLinear([0,3],[40.5,118.7]);
blocks.forEach(b=>{
  gB.append("polygon").attr("points",[[119,b.box[0]],[130,b.top],[130,b.bot],[119,b.box[1]]].map(p=>p.join(",")).join(" ")).attr("fill","#e3e3e3");
  samples.forEach((s,j)=>{
    const vals=b.rows[j];
    const ry=d3.scaleBand(d3.range(vals.length),[b.top,b.bot]);
    gB.append("g").attr("shape-rendering","crispEdges").selectAll("rect").data(vals).join("rect")
      .attr("x",hx(s)).attr("width",hx.bandwidth()).attr("y",(d,i)=>ry(i)).attr("height",ry.bandwidth()+.4).attr("fill",d=>color(d));
  });
  gB.append("rect").attr("x",180).attr("y",b.top).attr("width",209.5).attr("height",b.bot-b.top).attr("fill","none").attr("stroke","#222").attr("stroke-width",1.2);
  gB.append("rect").attr("x",391.7).attr("width",11.6).attr("y",b.top).attr("height",b.bot-b.top).attr("fill",b.bar);
  gB.append("text").attr("transform",`translate(399.4,${(b.top+b.bot)/2}) rotate(-90)`).attr("text-anchor","middle").attr("font-size",5.5).attr("fill","#ddd").text("n:"+b.size);
  const [c0,c1]=b.call;
  gB.append("path").attr("d",`M403.3,${b.top}L414.3,${c0}H636.7V${c1}H414.3L403.3,${b.bot}Z`).attr("fill","#f2f2f2").attr("stroke","none");
  gB.append("path").attr("d",`M403.3,${b.top}L414.3,${c0}H636.7V${c1}H414.3L403.3,${b.bot}`).attr("fill","none").attr("stroke","#8a8a8a").attr("stroke-width",1.1);
  b.terms.forEach((t,i)=>fit(gB.append("text").attr("x",417.7).attr("y",b.bl[i]).attr("font-size",12).attr("fill",b.tc).text(t),b.w[i]));
  const ty=d3.scaleLinear([0,1],[b.box[1],b.box[0]]);
  gB.append("rect").attr("x",41).attr("y",b.box[0]).attr("width",77.7).attr("height",b.box[1]-b.box[0]).attr("fill","#fff").attr("stroke","#555").attr("stroke-width",1.2);
  gB.append("path").attr("d",d3.line().x((d,i)=>tx(i)).y(d=>ty(d))(b.trend)).attr("fill","none").attr("stroke","#d7282f").attr("stroke-width",3);
  gB.append("rect").attr("x",53.5).attr("y",b.gs[0]).attr("width",53).attr("height",b.gs[1]-b.gs[0]).attr("fill","#fff").attr("stroke","#222").attr("stroke-width",1);
  gB.append("text").attr("x",80).attr("y",b.gs[1]-3.4).attr("text-anchor","middle").attr("font-size",6).attr("fill","#333").text("Gene Size: "+b.size);
  gB.append("text").attr("transform",`translate(35,${(b.box[0]+b.box[1])/2}) rotate(-90)`).attr("text-anchor","middle").attr("font-size",11.5).attr("fill","#222").text(b.id);
});
const gy=d3.scaleLinear([0,geneRows.length-1],[501.7,852.3]);
geneRows.forEach((g,i)=>{
  gB.append("text").attr("x",165).attr("y",gy(i)+3.4).attr("text-anchor","end").attr("font-size",10.1).attr("font-style","italic").attr("fill","#222").text(g);
  const s=geneLinkShift[i];
  gB.append("path").attr("d",`M168,${gy(i)}H171L174,${gy(i)+s}H177.5`).attr("fill","none").attr("stroke","#a9a9a9").attr("stroke-width",.7);
});
gB.append("text").attr("x",165).attr("y",992.5).attr("text-anchor","end").attr("font-size",10.1).attr("fill","#222").text("C3");
gB.append("line").attr("x1",169).attr("x2",176.5).attr("y1",989).attr("y2",989).attr("stroke","#a9a9a9").attr("stroke-width",.9);
gB.append("text").attr("x",665.5).attr("y",595).attr("font-size",16.6).attr("fill","#111").text("sample");
const ly=d3.scaleBand(samples,[605.3,681]);
samples.forEach((s,i)=>{
  gB.append("rect").attr("x",666).attr("y",ly(s)+.3).attr("width",18).attr("height",ly.bandwidth()-.6).attr("fill",sampleColors[i]);
  gB.append("text").attr("x",689.5).attr("y",ly(s)+ly.bandwidth()/2+5.8).attr("font-size",16.5).attr("fill","#111").text(s);
});
gB.append("text").attr("x",665.5).attr("y",737.3).attr("font-size",16.7).attr("fill","#111").text("Z−score");
const cy=d3.scaleLinear([-2,2],[844,750]);
const steps=d3.range(745.7,848,1);
gB.append("g").attr("shape-rendering","crispEdges").selectAll("rect").data(steps).join("rect").attr("x",664.3).attr("width",20.4).attr("y",d=>d).attr("height",1.2).attr("fill",d=>color(cy.invert(d)));
[-2,-1,0,1,2].forEach(v=>{
  gB.append("line").attr("x1",680).attr("x2",684.7).attr("y1",cy(v)).attr("y2",cy(v)).attr("stroke","#fff").attr("stroke-width",.8);
  gB.append("text").attr("x",689).attr("y",cy(v)+6).attr("font-size",16.7).attr("fill","#111").text(v<0?"−"+(-v):v);
});
</script></body></html>
